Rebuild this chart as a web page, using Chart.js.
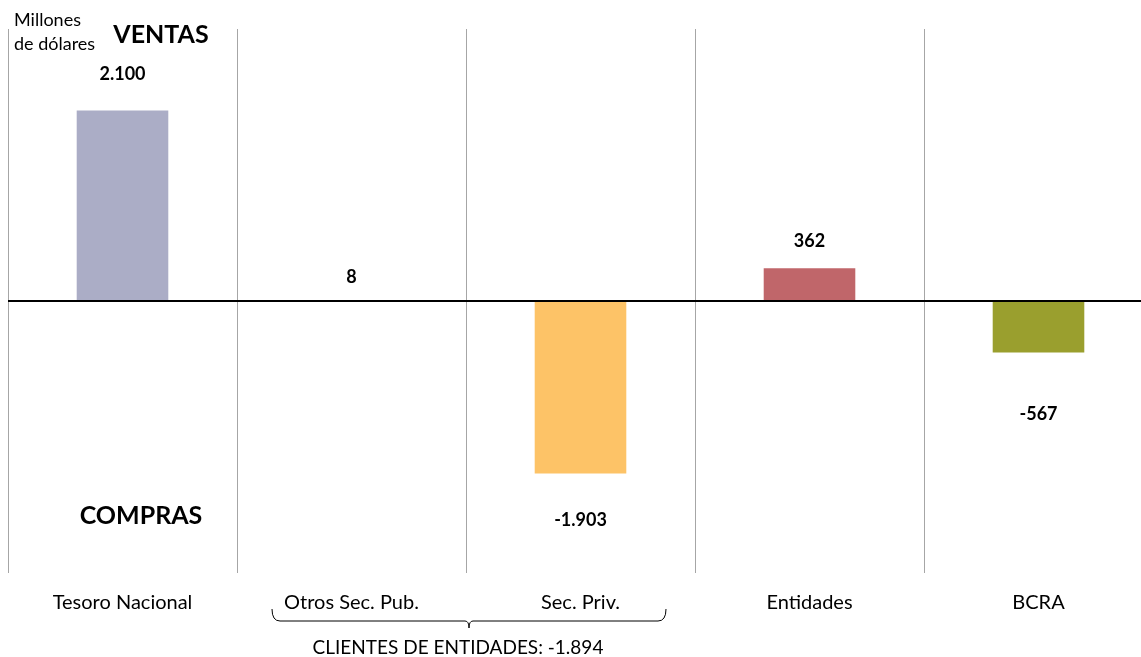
<!DOCTYPE html>
<html>
<head>
<meta charset="utf-8">
<script src="https://cdn.jsdelivr.net/npm/chart.js@4"></script>
<style>
  html, body { margin: 0; padding: 0; background: #fff; overflow: hidden; }
  #wrap { width: 1160px; height: 657px; }
</style>
</head>
<body>
<div id="wrap"><canvas id="chart"></canvas></div>
<script>
const categories = ['Tesoro Nacional', 'Otros Sec. Pub.', 'Sec. Priv.', 'Entidades', 'BCRA'];
const values = [2100, 8, -1903, 362, -567];
const barColors = ['#ABADC6', '#8EA9C9', '#FDC367', '#C0666A', '#9A9F2E'];
const clientesTotal = -1894;

// how far each value label sits from the end of its bar
const labelShift = [36, 23, 47, 27, 62];

const fmt = v => (v < 0 ? '-' : '') + Math.abs(v).toString().replace(/\B(?=(\d{3})+(?!\d))/g, '.');
const FONT = 'Lato, "Liberation Sans", sans-serif';

const extras = {
  id: 'extras',
  afterDatasetsDraw(chart) {
    const ctx = chart.ctx;
    const x = chart.scales.x, y = chart.scales.y;
    const zero = y.getPixelForValue(0);
    ctx.save();

    // zero line
    ctx.strokeStyle = '#000';
    ctx.lineWidth = 2;
    ctx.beginPath();
    ctx.moveTo(chart.chartArea.left, zero);
    ctx.lineTo(chart.width, zero);
    ctx.stroke();

    // value labels
    ctx.fillStyle = '#000';
    ctx.font = 'bold 18px ' + FONT;
    ctx.textAlign = 'center';
    ctx.textBaseline = 'middle';
    values.forEach((v, i) => {
      const px = x.getPixelForValue(i);
      const end = y.getPixelForValue(v);
      const py = v >= 0 ? end - labelShift[i] : end + labelShift[i];
      ctx.fillText(fmt(v), px, py);
    });

    // category labels
    ctx.font = '20px ' + FONT;
    categories.forEach((c, i) => {
      ctx.fillText(c, x.getPixelForValue(i), 603);
    });

    // brace under the two client groups
    const bl = 272, br = 666, bm = (bl + br) / 2;
    ctx.strokeStyle = '#000';
    ctx.lineWidth = 1;
    ctx.beginPath();
    ctx.moveTo(bl, 609);
    ctx.quadraticCurveTo(bl, 621, bl + 8, 621);
    ctx.lineTo(bm - 4, 621);
    ctx.quadraticCurveTo(bm, 621, bm, 628);
    ctx.quadraticCurveTo(bm, 621, bm + 4, 621);
    ctx.lineTo(br - 8, 621);
    ctx.quadraticCurveTo(br, 621, br, 609);
    ctx.stroke();
    ctx.font = '19px ' + FONT;
    ctx.fillText('CLIENTES DE ENTIDADES: ' + fmt(clientesTotal), 458, 648);

    // side titles
    ctx.font = '18px ' + FONT;
    ctx.textAlign = 'left';
    ctx.fillText('Millones', 14, 20);
    ctx.fillText('de dólares', 14, 44);
    ctx.textAlign = 'center';
    ctx.font = 'bold 25px ' + FONT;
    ctx.fillText('VENTAS', 161, 35);
    ctx.fillText('COMPRAS', 141, 516);
    ctx.restore();
  }
};

const chart = new Chart(document.getElementById('chart'), {
  type: 'bar',
  data: {
    labels: categories,
    datasets: [{
      data: values,
      backgroundColor: barColors,
      barPercentage: 0.4,
      categoryPercentage: 1
    }]
  },
  options: {
    responsive: true,
    maintainAspectRatio: false,
    animation: false,
    layout: { padding: { top: 29, left: 8, right: 7, bottom: 84 } },
    plugins: { legend: { display: false }, tooltip: { enabled: false } },
    scales: {
      x: {
        grid: { offset: true, color: '#A6A6A6', lineWidth: 1, drawTicks: false },
        border: { display: false },
        ticks: { display: false }
      },
      y: {
        display: false,
        min: -3000,
        max: 3000
      }
    }
  },
  plugins: [extras]
});
</script>
</body>
</html>
